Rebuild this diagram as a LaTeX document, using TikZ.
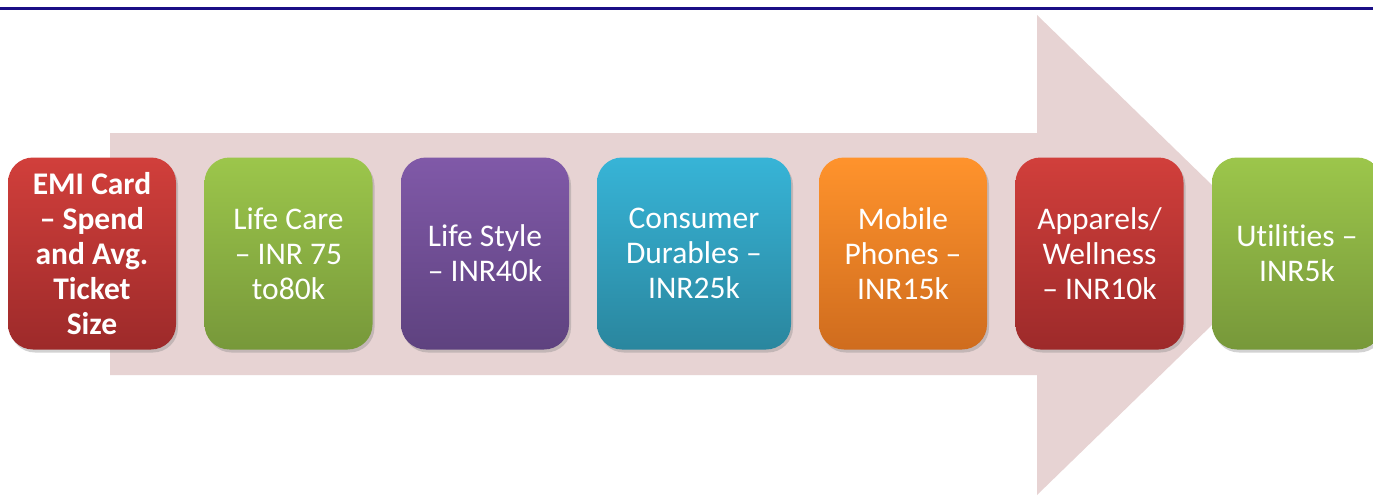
\documentclass[tikz,border=0pt]{standalone}
\usepackage{fontspec}
\setmainfont{Carlito}[Ligatures={NoCommon}]
\usetikzlibrary{shadows}

\definecolor{navyline}{HTML}{1B0F86}
\definecolor{arrowpink}{HTML}{E7D3D3}
\definecolor{redtop}{HTML}{D13F3B}
\definecolor{redbot}{HTML}{9D2A2A}
\definecolor{greentop}{HTML}{9CC64B}
\definecolor{greenbot}{HTML}{77983A}
\definecolor{purpletop}{HTML}{8059A8}
\definecolor{purplebot}{HTML}{5E427F}
\definecolor{cyantop}{HTML}{37B4D7}
\definecolor{cyanbot}{HTML}{2A869E}
\definecolor{orangetop}{HTML}{FF932C}
\definecolor{orangebot}{HTML}{CF6C1E}

\tikzset{
  stagebox/.style={rounded corners=25pt, minimum width=168pt, minimum height=192pt,
    inner sep=0pt, align=center, text=white,
    font=\fontsize{31.5}{35}\selectfont,
    drop shadow={opacity=0.35, shadow xshift=2pt, shadow yshift=-3pt}},
  redbox/.style={stagebox, top color=redtop, bottom color=redbot},
  greenbox/.style={stagebox, top color=greentop, bottom color=greenbot},
  purplebox/.style={stagebox, top color=purpletop, bottom color=purplebot},
  cyanbox/.style={stagebox, top color=cyantop, bottom color=cyanbot},
  orangebox/.style={stagebox, top color=orangetop, bottom color=orangebot}
}

\begin{document}
\begin{tikzpicture}[x=1pt, y=-1pt]
    \clip (0,0) rectangle (1373,498);
    \fill [white] (0,0) rectangle (1373,498);
    % rule at the top
    \fill [navyline] (0,7.3) rectangle (1373,10);
    % big arrow behind the boxes
    \fill [arrowpink] (110,133) -- (1037,133) -- (1037,15) -- (1284,255)
        -- (1037,495) -- (1037,375) -- (110,375) -- cycle;
    % stages
    \node [redbox] (emi) at (92,253.5) {\bfseries EMI Card\\\bfseries -- Spend\\\bfseries and Avg.\\\bfseries Ticket\\\bfseries Size};
    \node [greenbox] (lifecare) at (288.5,253.5) {Life Care\\-- INR 75\\to80k};
    \node [purplebox] (lifestyle) at (485,253.5) {Life Style\\-- INR40k};
    \node [cyanbox, minimum width=194pt] (durables) at (694,253.5) {Consumer\\Durables --\\INR25k};
    \node [orangebox] (mobile) at (903,253.5) {Mobile\\Phones --\\INR15k};
    \node [redbox] (apparels) at (1099.5,253.5) {Apparels/\\Wellness\\-- INR10k};
    \node [greenbox, minimum width=170pt] (utilities) at (1297,253.5) {Utilities --\\INR5k};
\end{tikzpicture}
\end{document}
